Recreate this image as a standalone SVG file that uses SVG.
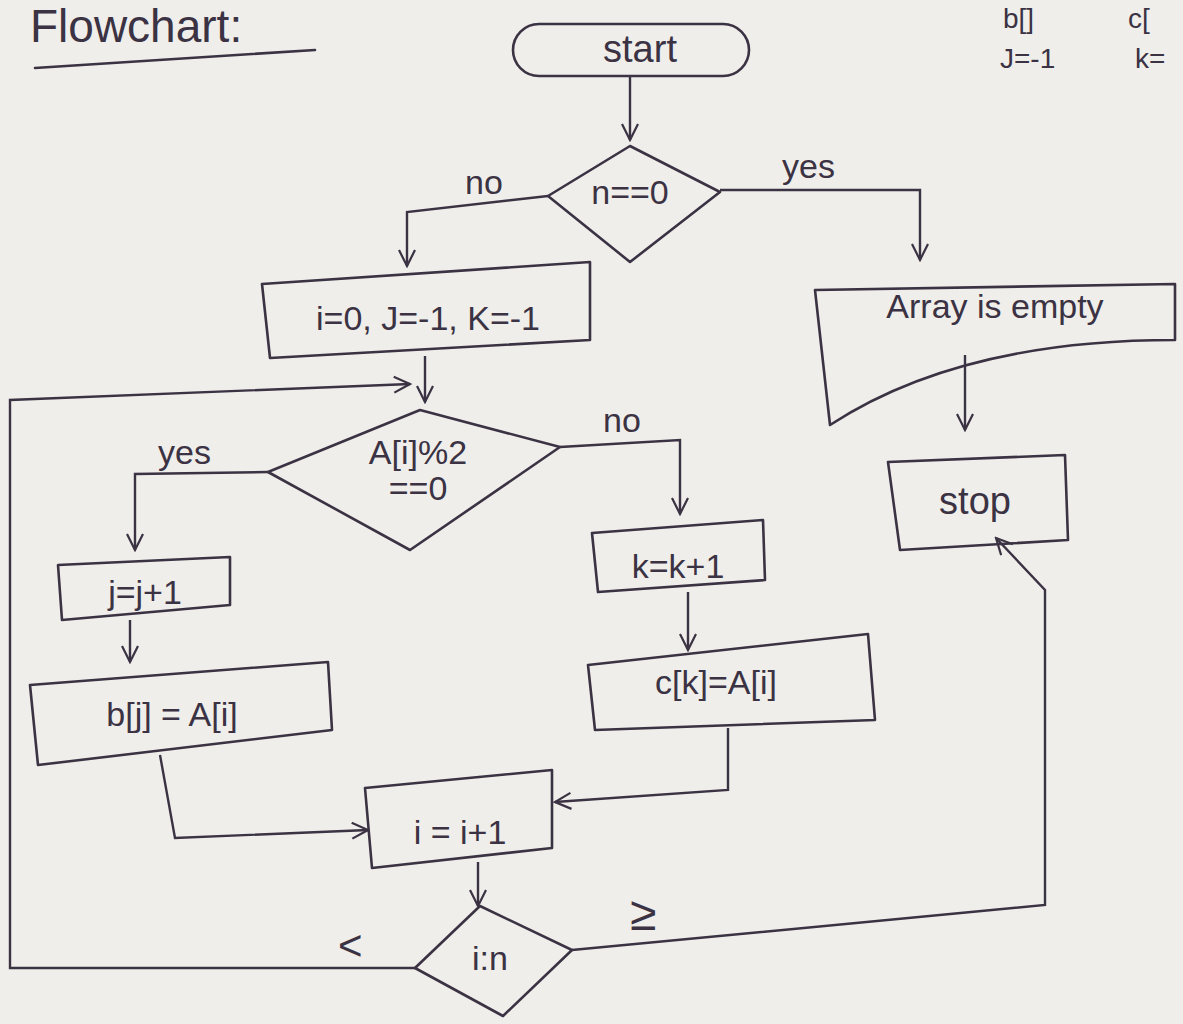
<svg xmlns="http://www.w3.org/2000/svg" width="1183" height="1024" viewBox="0 0 1183 1024">
<defs>
<marker id="ah" viewBox="0 0 20 20" refX="18" refY="10" markerWidth="20" markerHeight="20" markerUnits="userSpaceOnUse" orient="auto">
<path d="M2,2 L18,10 L2,18" fill="none" stroke="#3b3243" stroke-width="2.2"/>
</marker>
<style>
.s{fill:none;stroke:#3b3243;stroke-width:2.6;stroke-linejoin:round;stroke-linecap:round}
.c{fill:none;stroke:#3b3243;stroke-width:2.4;marker-end:url(#ah)}
text{font-family:"Liberation Sans","DejaVu Sans",sans-serif;fill:#3b3243;font-size:34px}
.m{text-anchor:middle}
.n{font-size:28px}
.big{font-size:38px}
</style>
</defs>
<rect width="1183" height="1024" fill="#efeeea"/>
<g id="title">
<text x="30" y="42" style="font-size:46px">Flowchart:</text>
<path class="s" d="M35,68 L315,50"/>
</g>
<g id="notes">
<text class="n" x="1003" y="28">b[]</text>
<text class="n" x="1128" y="28">c[</text>
<text class="n" x="1000" y="68">J=-1</text>
<text class="n" x="1135" y="68">k=</text>
</g>
<g id="connectors">
<path class="c" d="M630,76 L630,140"/>
<path class="c" d="M548,196 L407,212 L407,266"/>
<path class="c" d="M720,190 L920,190 L920,260"/>
<path class="c" d="M425,356 L425,402"/>
<path class="c" d="M415,968 L10,968 L10,400 L410,384"/>
<path class="c" d="M965,355 L965,430"/>
<path class="c" d="M268,472 L135,474 L135,550"/>
<path class="c" d="M560,447 L680,440 L680,514"/>
<path class="c" d="M130,620 L130,662"/>
<path class="c" d="M688,592 L688,650"/>
<path class="c" d="M728,728 L728,790 L555,802"/>
<path class="c" d="M160,755 L175,838 L368,830"/>
<path class="c" d="M478,862 L478,906"/>
<path class="c" d="M572,950 L1045,905 L1045,590 L996,538"/>
<text x="465" y="194">no</text>
<text x="782" y="178">yes</text>
<text x="158" y="464">yes</text>
<text x="603" y="432">no</text>
<text x="338" y="960" style="font-size:42px">&lt;</text>
<text x="630" y="930" style="font-size:48px">≥</text>
</g>
<g id="start">
<rect class="s" x="513" y="24" width="236" height="52" rx="26"/>
<text class="m big" x="640" y="62">start</text>
</g>
<g id="cond-empty">
<path class="s" d="M548,196 L630,146 L720,192 L630,262 Z"/>
<text class="m" x="630" y="204">n==0</text>
</g>
<g id="empty">
<path class="s" d="M815,290 L1175,284 L1175,340 Q960,340 830,425 Z"/>
<text class="m" x="995" y="318">Array is empty</text>
</g>
<g id="stop">
<path class="s" d="M888,462 L1065,455 L1068,540 L900,550 Z"/>
<text class="m big" x="975" y="514">stop</text>
</g>
<g id="init">
<path class="s" d="M262,284 L590,262 L590,340 L270,358 Z"/>
<text class="m" x="428" y="330">i=0, J=-1, K=-1</text>
</g>
<g id="cond-even">
<path class="s" d="M268,472 L420,410 L560,447 L410,550 Z"/>
<text class="m" x="418" y="464">A[i]%2</text>
<text class="m" x="418" y="500">==0</text>
</g>
<g id="jinc">
<path class="s" d="M58,565 L230,557 L230,605 L62,620 Z"/>
<text class="m" x="145" y="604">j=j+1</text>
</g>
<g id="bassign">
<path class="s" d="M30,685 L328,662 L332,730 L38,765 Z"/>
<text class="m" x="172" y="726">b[j] = A[i]</text>
</g>
<g id="kinc">
<path class="s" d="M592,533 L763,520 L765,580 L598,592 Z"/>
<text class="m" x="678" y="578">k=k+1</text>
</g>
<g id="cassign">
<path class="s" d="M588,665 L868,634 L875,720 L595,730 Z"/>
<text class="m" x="716" y="694">c[k]=A[i]</text>
</g>
<g id="iinc">
<path class="s" d="M365,788 L552,770 L552,848 L372,868 Z"/>
<text class="m" x="460" y="844">i = i+1</text>
</g>
<g id="cond-loop">
<path class="s" d="M415,968 L480,906 L572,950 L503,1016 Z"/>
<text class="m" x="490" y="970">i:n</text>
</g>
</svg>
